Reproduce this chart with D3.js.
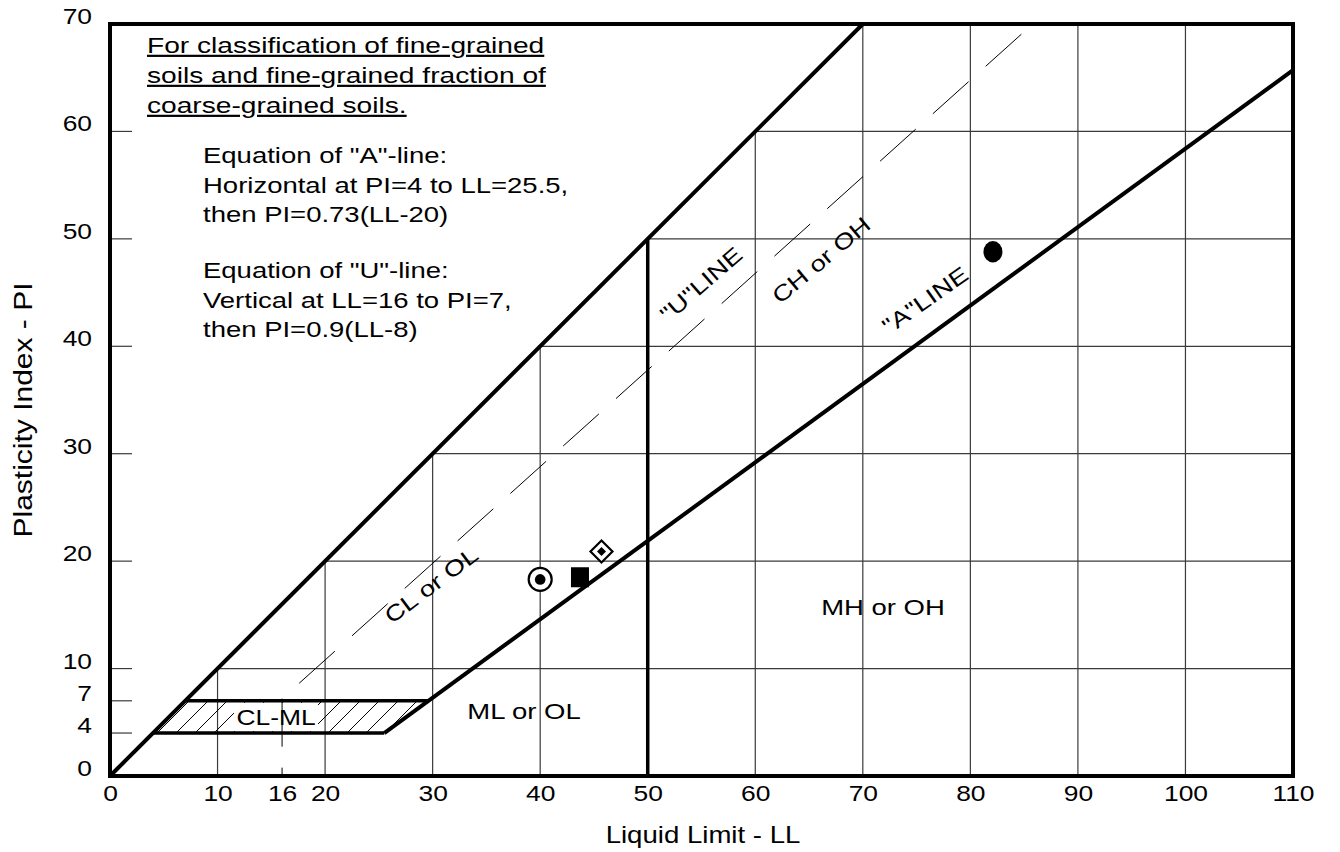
<html><head>
<script src="https://d3js.org/d3.v7.min.js"></script>
<style>
  body { margin: 0; background: #fff; }
  text { font-family: "Liberation Sans", Arial, Helvetica, sans-serif; fill: #000; }
</style>
</head>
<body>
<script>
// plasticity chart data
var llTicks = [0, 10, 16, 20, 30, 40, 50, 60, 70, 80, 90, 100, 110];
var piTicks = [0, 4, 7, 10, 20, 30, 40, 50, 60, 70];
var leftTicks = [4, 7, 10, 20, 30, 40, 50, 60];
var gridLL = [10, 20, 30, 40, 60, 70, 80, 90, 100];
var gridPI = [10, 20, 30, 40, 50, 60];

var equalityLine = [[0, 0], [70, 70]];
var aLine = [[25.5, 4], [110, 65.7]];
var uLineVertical = [[16, 7.2], [16, 0]];
var uLineDiagonal = [[16, 7.2], [85.8, 70]];
var line50 = [[50, 0], [50, 50]];
var clmlTop = [[7, 7], [29.6, 7]];
var clmlBottom = [[4, 4], [25.5, 4]];
var clmlZone = [[4, 4], [7, 7], [29.6, 7], [25.5, 4]];

var samples = [
  { ll: 40.0, pi: 18.3, shape: "circledot" },
  { ll: 43.7, pi: 18.5, shape: "square" },
  { ll: 45.7, pi: 20.9, shape: "diamond" },
  { ll: 82.1, pi: 48.8, shape: "ellipse" }
];

var titleLines = ["For classification of fine-grained", "soils and fine-grained fraction of", "coarse-grained soils."];
var aEquation = ["Equation of \"A\"-line:", "Horizontal at PI=4 to LL=25.5,", "then PI=0.73(LL-20)"];
var uEquation = ["Equation of \"U\"-line:", "Vertical at LL=16 to PI=7,", "then PI=0.9(LL-8)"];

let width = 1340, height = 852;
let svg = d3.select("body").append("svg").attr("width", width).attr("height", height);

let x = d3.scaleLinear().domain([0, 110]).range([110, 1293]);
let y = d3.scaleLinear().domain([0, 70]).range([776, 24]);
let line = d3.line().x(d => x(d[0])).y(d => y(d[1]));

let grid = svg.append("g").attr("stroke", "#3a3a3a").attr("stroke-width", 1.2);
gridLL.forEach(v => {
  grid.append("line").attr("x1", x(v)).attr("x2", x(v)).attr("y1", y(0)).attr("y2", y(Math.min(v, 70)));
});
gridPI.forEach(v => {
  grid.append("line").attr("x1", x(v)).attr("x2", x(110)).attr("y1", y(v)).attr("y2", y(v));
});
leftTicks.forEach(v => {
  grid.append("line").attr("x1", x(0)).attr("x2", x(0) + 22).attr("y1", y(v)).attr("y2", y(v));
});

// hatching for CL-ML
svg.append("clipPath").attr("id", "clml").append("path").attr("d", line(clmlZone) + "Z");
let hatch = svg.append("g").attr("clip-path", "url(#clml)").attr("stroke", "#000").attr("stroke-width", 1);
for (let hx = x(0) + 9; hx < x(32); hx += 19) {
  hatch.append("line").attr("x1", hx).attr("y1", y(4)).attr("x2", hx + (y(4) - y(7))).attr("y2", y(7));
}
svg.append("rect").attr("x", 234).attr("y", y(7) + 2).attr("width", 84).attr("height", y(4) - y(7) - 4).attr("fill", "#fff");

// dashed U-line
svg.append("path").attr("d", line(uLineVertical)).attr("fill", "none").attr("stroke", "#000")
  .attr("stroke-width", 1).attr("stroke-dasharray", "48,21");
svg.append("path").attr("d", line(uLineDiagonal)).attr("fill", "none").attr("stroke", "#000")
  .attr("stroke-width", 1).attr("stroke-dasharray", "48,23").attr("stroke-dashoffset", 48);

// heavy lines
[equalityLine, aLine].forEach(l => {
  svg.append("path").attr("d", line(l)).attr("fill", "none").attr("stroke", "#000").attr("stroke-width", 4);
});
[line50, clmlTop, clmlBottom].forEach(l => {
  svg.append("path").attr("d", line(l)).attr("fill", "none").attr("stroke", "#000").attr("stroke-width", 3.5);
});

// frame
svg.append("rect").attr("x", x(0)).attr("y", y(70)).attr("width", x(110) - x(0)).attr("height", y(0) - y(70))
  .attr("fill", "none").attr("stroke", "#000").attr("stroke-width", 4);

// axes
let xAxis = d3.axisBottom(x).tickValues(llTicks).tickSize(0).tickPadding(9);
let yAxis = d3.axisLeft(y).tickValues(piTicks).tickSize(0).tickPadding(15);
let gx = svg.append("g").attr("transform", "translate(0," + y(0) + ")").call(xAxis);
let gy = svg.append("g").attr("transform", "translate(" + x(0) + ",0)").call(yAxis);
svg.selectAll(".domain").attr("stroke", "none");
svg.selectAll(".tick text").attr("font-size", 22).attr("font-family", "Liberation Sans, Arial, sans-serif")
  .attr("transform", "scale(1.2,1)").attr("fill", "#000");
gy.selectAll(".tick text").attr("dy", "-0.02em");

function label(txt, px, py, opts) {
  opts = opts || {};
  let t = svg.append("text")
    .attr("transform", "translate(" + px + "," + py + ") rotate(" + (opts.rotate || 0) + ") scale(" + (opts.sx || 1.25) + ",1)")
    .attr("font-size", opts.size || 22)
    .attr("text-anchor", opts.anchor || "start")
    .text(txt);
  if (opts.underline) t.attr("text-decoration", "underline");
  if (opts.middle) t.attr("dy", "0.36em");
  return t;
}

titleLines.forEach((s, i) => label(s, 147, 53 + i * 30, { underline: true, sx: 1.28 }));
aEquation.forEach((s, i) => label(s, 203, 163 + i * 29.5));
uEquation.forEach((s, i) => label(s, 203, 278 + i * 29.5));

label("CL-ML", 276, 717, { anchor: "middle", middle: true, sx: 1.2 });
label("ML or OL", 524, 711, { anchor: "middle", middle: true });
label("MH or OH", 883, 607, { anchor: "middle", middle: true });
label("CL or OL", 431, 585, { anchor: "middle", middle: true, rotate: -37 });
label("CH or OH", 821, 260, { anchor: "middle", middle: true, rotate: -40 });
label("\"U\"LINE", 701, 284, { anchor: "middle", middle: true, rotate: -41 });
label("\"A\"LINE", 925, 300, { anchor: "middle", middle: true, rotate: -35 });

label("Liquid Limit - LL", 703, 843, { anchor: "middle", sx: 1.2, size: 23 });
label("Plasticity Index - PI", 32, 410, { anchor: "middle", sx: 1.2, size: 25, rotate: -90 });

// sample points
samples.forEach(d => {
  let cx = x(d.ll), cy = y(d.pi);
  if (d.shape == "circledot") {
    svg.append("circle").attr("cx", cx).attr("cy", cy).attr("r", 11.5).attr("fill", "#fff").attr("stroke", "#000").attr("stroke-width", 2.2);
    svg.append("circle").attr("cx", cx).attr("cy", cy).attr("r", 5.3).attr("fill", "#000");
  } else if (d.shape == "square") {
    svg.append("rect").attr("x", cx - 9).attr("y", cy - 10).attr("width", 18).attr("height", 20).attr("fill", "#000");
  } else if (d.shape == "diamond") {
    let o = 11, r = 4.5;
    svg.append("path").attr("d", "M" + cx + "," + (cy - o) + "L" + (cx + o) + "," + cy + "L" + cx + "," + (cy + o) + "L" + (cx - o) + "," + cy + "Z")
      .attr("fill", "#fff").attr("stroke", "#000").attr("stroke-width", 2.2);
    svg.append("path").attr("d", "M" + cx + "," + (cy - r) + "L" + (cx + r) + "," + cy + "L" + cx + "," + (cy + r) + "L" + (cx - r) + "," + cy + "Z")
      .attr("fill", "#000");
  } else {
    svg.append("ellipse").attr("cx", cx).attr("cy", cy).attr("rx", 9.5).attr("ry", 10.7).attr("fill", "#000");
  }
});
</script>
</body>
</html>
